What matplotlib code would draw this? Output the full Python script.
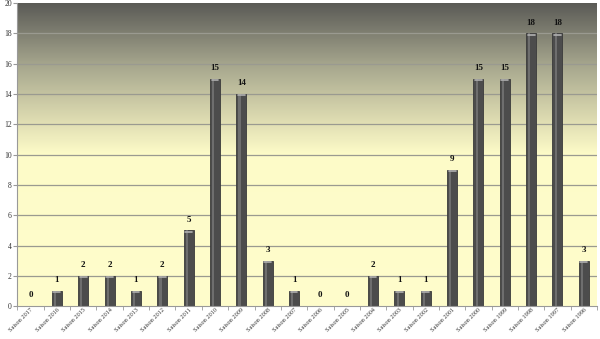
import matplotlib
matplotlib.use('Agg')
import numpy as np
import matplotlib.pyplot as plt
from matplotlib.colors import LinearSegmentedColormap

# -----------------------------
# Data
# -----------------------------
seasons = ['Saison 2017', 'Saison 2016', 'Saison 2015', 'Saison 2014', 'Saison 2013',
           'Saison 2012', 'Saison 2011', 'Saison 2010', 'Saison 2009', 'Saison 2008',
           'Saison 2007', 'Saison 2006', 'Saison 2005', 'Saison 2004', 'Saison 2003',
           'Saison 2002', 'Saison 2001', 'Saison 2000', 'Saison 1999', 'Saison 1998',
           'Saison 1997', 'Saison 1996']
values = [0, 1, 2, 2, 1, 2, 5, 15, 14, 3, 1, 0, 0, 2, 1, 1, 9, 15, 15, 18, 18, 3]
yticks = [0, 2, 4, 6, 8, 10, 12, 14, 16, 18, 20]

plt.rcParams['font.family'] = ['Liberation Serif', 'DejaVu Serif']

fig = plt.figure(figsize=(6, 3.39), dpi=100)
ax = fig.add_axes([0.029, 0.097, 0.966, 0.894])

x = np.arange(len(seasons))
ax.set_xlim(-0.5, len(seasons) - 0.5)
ax.set_ylim(0, 20)

# -----------------------------
# Background gradient (dark top -> pale yellow)
# -----------------------------
bg = LinearSegmentedColormap.from_list('bg', [(0.0, '#fffdcc'), (0.5, '#fdfbc8'),
                                              (0.62, '#dcdab0'), (0.8, '#a4a48c'),
                                              (1.0, '#5a5a56')])
grad = np.linspace(0, 1, 256).reshape(-1, 1)
ax.imshow(grad, aspect='auto', cmap=bg, origin='lower',
          extent=[-0.5, len(seasons) - 0.5, 0, 20], zorder=0)

for yv in yticks[1:-1]:
    ax.axhline(yv, color='#9a9a90', lw=0.9, zorder=1)

# -----------------------------
# Bars
# -----------------------------
bars = ax.bar(x, values, width=0.38, color='#4c4c4c', edgecolor='#3a3a3a',
              linewidth=0.6, zorder=2)
# light highlight stripe
ax.bar(x - 0.07, values, width=0.08, color='#6e6e6e', linewidth=0, zorder=3)
for xi, v in zip(x, values):
    if v > 0:
        ax.plot([xi - 0.13, xi + 0.13], [v - 0.08, v - 0.08], color='#b0b0b0',
                lw=1.2, zorder=4, solid_capstyle='round')
    ax.text(xi, v + 0.45, str(v), ha='center', va='bottom', fontsize=6.5,
            fontweight='bold', color='#111111', zorder=5)

# -----------------------------
# Axes styling
# -----------------------------
ax.set_yticks(yticks)
ax.set_yticklabels([str(t) for t in yticks], fontsize=5.5, color='#333333')
ax.set_xticks(x)
ax.set_xticklabels(seasons, rotation=45, ha='right', rotation_mode='anchor',
                   fontsize=4.5, color='#333333')
ax.tick_params(axis='y', length=3, color='#999999', pad=1)
ax.tick_params(axis='x', length=3, color='#999999', pad=1)
ax.set_xticks(np.arange(-0.5, len(seasons), 1), minor=True)
ax.tick_params(axis='x', which='major', length=0)
ax.tick_params(axis='x', which='minor', length=3, color='#999999')
for s in ['top', 'right']:
    ax.spines[s].set_visible(False)
ax.spines['left'].set_color('#999999')
ax.spines['bottom'].set_color('#999999')

plt.savefig('out.png', dpi=100)
plt.close()
